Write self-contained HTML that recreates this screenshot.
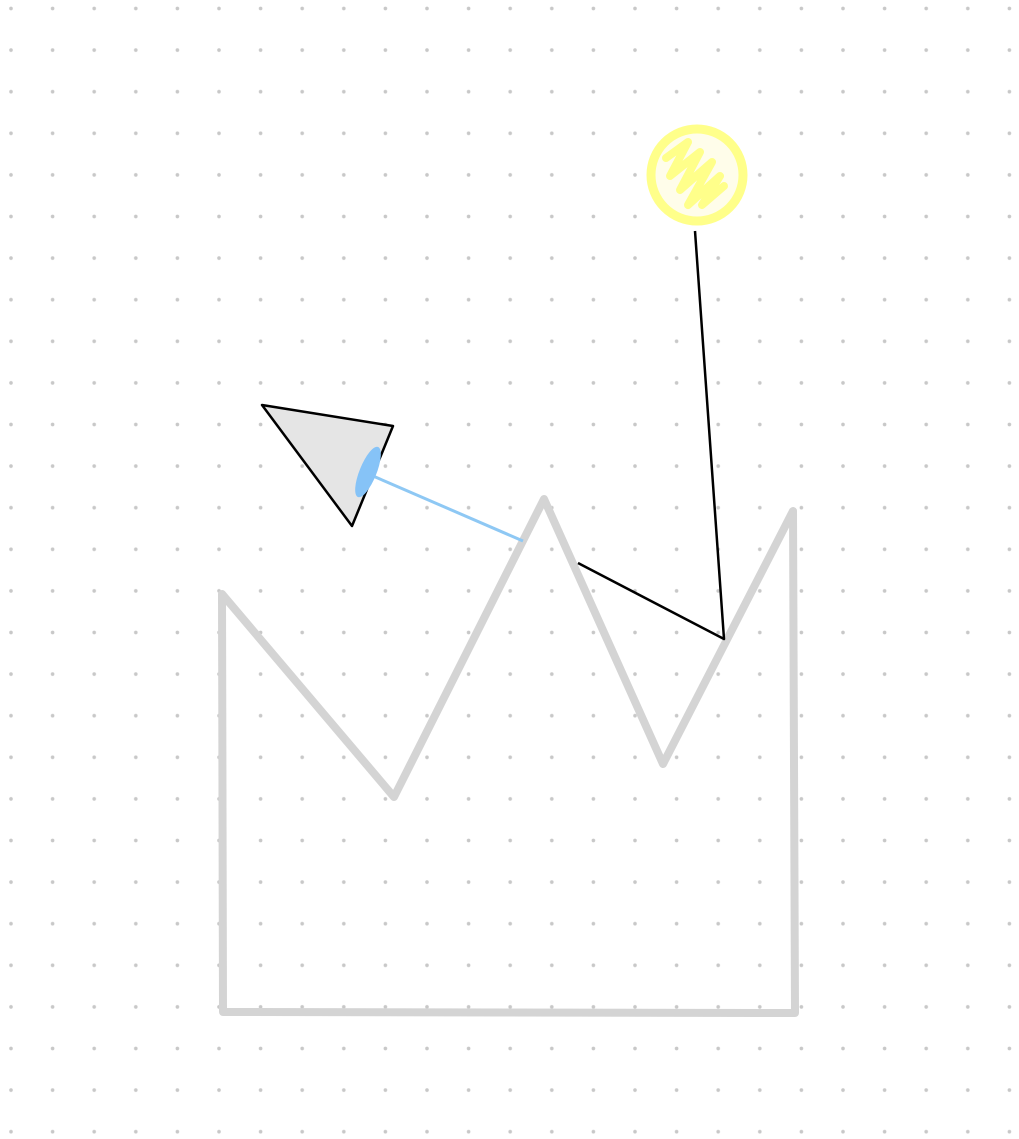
<!DOCTYPE html>
<html><head><meta charset="utf-8"><style>html,body{margin:0;padding:0;background:#fff}svg{display:block}</style></head>
<body>
<svg width="1019" height="1139" viewBox="0 0 1019 1139">
<defs><pattern id="dots" x="11" y="8.5" width="41.6" height="41.6" patternUnits="userSpaceOnUse"><circle cx="0" cy="0" r="1.8" fill="#c8c8c8"/><circle cx="41.6" cy="0" r="1.8" fill="#c8c8c8"/><circle cx="0" cy="41.6" r="1.8" fill="#c8c8c8"/><circle cx="41.6" cy="41.6" r="1.8" fill="#c8c8c8"/></pattern></defs>
<rect width="1019" height="1139" fill="url(#dots)"/>
<polyline points="222,594 394,797 544,499 663,764 793,511 795,1013 223,1012 222,594" fill="none" stroke="#d4d4d4" stroke-width="8" stroke-linejoin="round" stroke-linecap="round"/>
<polygon points="262,405 393,426 352,526" fill="#e5e5e5" stroke="#000" stroke-width="2.5" stroke-linejoin="round"/>
<line x1="373" y1="476" x2="523" y2="541" stroke="#8ec8f4" stroke-width="3"/>
<ellipse cx="368" cy="472" rx="8.5" ry="27" transform="rotate(22 368 472)" fill="#86c3f7"/>
<polyline points="578,563 724,639 695,231" fill="none" stroke="#000" stroke-width="2.5" stroke-linejoin="round"/>
<circle cx="697" cy="175" r="46" fill="#fffdea" stroke="#ffff8a" stroke-width="9"/>
<path d="M666,158 L688,142 L670,176 L700,152 L680,190 L712,162 L688,205 L720,176 L702,205 L724,186" fill="none" stroke="#ffff8a" stroke-width="8" stroke-linecap="round" stroke-linejoin="round"/>
</svg>
</body></html>
